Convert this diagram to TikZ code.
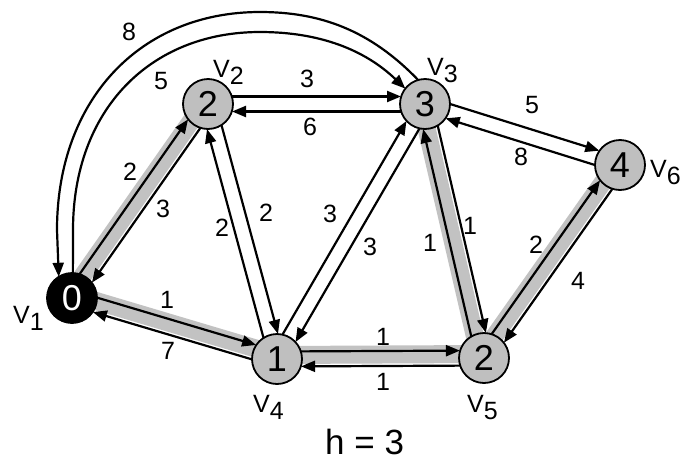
\documentclass[tikz,border=0pt]{standalone}
\usepackage{fontspec}
\setmainfont{Liberation Sans}
\usetikzlibrary{arrows.meta,calc}
\pgfdeclarelayer{bg}
\pgfsetlayers{bg,main}
\newcommand\dedge[2]{\draw[edge] ($(#1.center)!7.5pt!90:(#2.center)$) -- ($(#2.center)!7.5pt!-90:(#1.center)$);}
\newcommand\hband[2]{\draw[hlband] ($(#1.center)!4pt!90:(#2.center)$) -- ($(#2.center)!4pt!-90:(#1.center)$);}
\newcommand\vsub[1]{V\raisebox{-7pt}{#1}}
\begin{document}
\begin{tikzpicture}[x=1pt,y=-1pt,
  vtx/.style={circle,draw=black,line width=1.8pt,fill=gray!50,minimum size=50pt,inner sep=0pt,outer sep=0pt,font=\fontsize{36}{36}\selectfont},
  src/.style={vtx,fill=black,text=white},
  wt/.style={font=\fontsize{25}{25}\selectfont,inner sep=0pt},
  vlab/.style={font=\fontsize{25}{25}\selectfont,inner sep=0pt,anchor=base west},
  edge/.style={line width=2.2pt,-{Triangle[length=14pt,width=11pt]},shorten <=24pt,shorten >=24pt},
  arcedge/.style={line width=2.2pt,-{Triangle[length=14pt,width=11pt]}},
  hlband/.style={line width=18pt,gray!48},
]
\useasboundingbox (0,0) rectangle (682,461);

% vertices
\node[src] (v1) at (72,298) {0};
\node[vtx] (v2) at (208,104) {2};
\node[vtx] (v3) at (425,104) {3};
\node[vtx] (v6) at (620,165) {4};
\node[vtx] (v4) at (277,359) {1};
\node[vtx] (v5) at (484,358) {2};

% vertex names
\node[vlab] (n1) at (13,323) {\vsub{1}};
\node[vlab] (n2) at (213,77) {\vsub{2}};
\node[vlab] (n3) at (427,75) {\vsub{3}};
\node[vlab] (n6) at (650,177) {\vsub{6}};
\node[vlab] (n4) at (253,412) {\vsub{4}};
\node[vlab] (n5) at (467,412) {\vsub{5}};

% weights
\node[wt] (w12) at (130,172) {2};
\node[wt] (w21) at (163,209) {3};
\node[wt] (w24) at (266,213) {2};
\node[wt] (w42) at (222,228) {2};
\node[wt] (w23) at (307,79) {3};
\node[wt] (w32) at (310,127) {6};
\node[wt] (w43) at (330,214) {3};
\node[wt] (w34) at (370,247) {3};
\node[wt] (w53) at (430,243) {1};
\node[wt] (w35) at (470,226) {1};
\node[wt] (w36) at (532,105) {5};
\node[wt] (w63) at (521,157) {8};
\node[wt] (w56) at (536,245) {2};
\node[wt] (w65) at (578,281) {4};
\node[wt] (w14) at (167,300) {1};
\node[wt] (w41) at (168,351) {7};
\node[wt] (w45) at (383,337) {1};
\node[wt] (w54) at (383,382) {1};
\node[wt] (w13) at (161,81) {5};
\node[wt] (w31) at (129,32) {8};

\node[font=\fontsize{35}{35}\selectfont,inner sep=0pt,anchor=base west] (h) at (325,454) {h = 3};

\begin{pgfonlayer}{bg}
  % shortest-path tree highlight
  \hband{v1}{v2}
  \hband{v1}{v4}
  \hband{v4}{v5}
  \hband{v5}{v3}
  \hband{v5}{v6}
  % directed edges
  \dedge{v1}{v2} \dedge{v2}{v1}
  \dedge{v2}{v4} \dedge{v4}{v2}
  \dedge{v2}{v3} \dedge{v3}{v2}
  \dedge{v4}{v3} \dedge{v3}{v4}
  \dedge{v5}{v3} \dedge{v3}{v5}
  \dedge{v3}{v6} \dedge{v6}{v3}
  \dedge{v5}{v6} \dedge{v6}{v5}
  \dedge{v1}{v4} \dedge{v4}{v1}
  \dedge{v4}{v5} \dedge{v5}{v4}
  % arcs between v1 and v3
  \draw[arcedge] (v3.106) .. controls (370,30) and (320,12) .. (260,12)
     .. controls (140,12) and (57,100) .. (57,230) -- (v1.122);
  \draw[arcedge] (v1.88) -- (73,230) .. controls (73,110) and (150,32) .. (260,32)
     .. controls (320,32) and (365,50) .. (v3.142);
\end{pgfonlayer}
\end{tikzpicture}
\end{document}
